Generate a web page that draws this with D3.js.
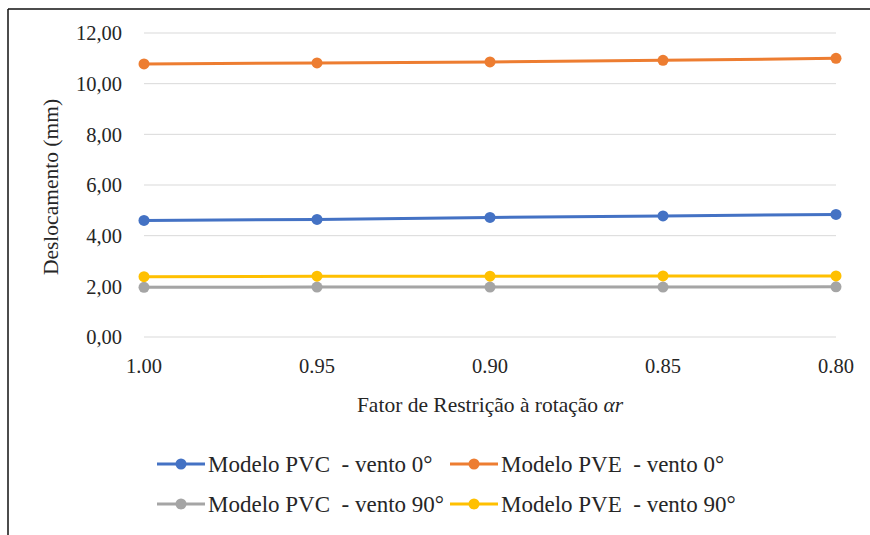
<!DOCTYPE html>
<html>
<head><meta charset="utf-8"><script src="https://cdn.jsdelivr.net/npm/d3@7"></script></head>
<body style="margin:0">
<script>
const width = 870;
const height = 535;
const margin = { top: 33, right: 34, bottom: 198, left: 144 };
const textColor = "#262626";
const baseSize = 24;

// data
const factors = ["1.00", "0.95", "0.90", "0.85", "0.80"];
const yTicks = [0, 2, 4, 6, 8, 10, 12];
const pvc0 = [4.60, 4.64, 4.72, 4.78, 4.84];
const pve0 = [10.78, 10.82, 10.86, 10.92, 11.00];
const pvc90 = [1.96, 1.97, 1.97, 1.97, 1.98];
const pve90 = [2.38, 2.40, 2.40, 2.41, 2.41];

const series = [
    { name: "Modelo PVC  - vento 0°", color: "#4472c4", values: pvc0 },
    { name: "Modelo PVE  - vento 0°", color: "#ed7d31", values: pve0 },
    { name: "Modelo PVC  - vento 90°", color: "#a5a5a5", values: pvc90 },
    { name: "Modelo PVE  - vento 90°", color: "#ffc000", values: pve90 }
];
// draw order: gray below yellow
const drawOrder = [2, 3, 0, 1];

const innerW = width - margin.left - margin.right;
const innerH = height - margin.top - margin.bottom;

const x = d3.scalePoint().domain(factors).range([0, innerW]);
const y = d3.scaleLinear().domain([0, 12]).range([innerH, 0]);

const svg = d3.select("body").append("svg")
    .attr("width", width)
    .attr("height", height);

// text is set at 24px and scaled down to the wanted size
const styleText = (sel) => sel
    .style("font-family", "'Liberation Serif', monospace")
    .attr("font-size", baseSize)
    .attr("fill", textColor);
const place = (px, py, size, rot) =>
    `translate(${px},${py})${rot ? ` rotate(${rot})` : ""} scale(${size / baseSize})`;

// outer frame (only top and left edges show)
svg.append("line")
    .attr("x1", 8).attr("x2", width).attr("y1", 9).attr("y2", 9)
    .attr("stroke", "#111").attr("stroke-width", 1.5);
svg.append("line")
    .attr("x1", 8).attr("x2", 8).attr("y1", 9).attr("y2", height)
    .attr("stroke", "#111").attr("stroke-width", 1.5);

const g = svg.append("g")
    .attr("transform", `translate(${margin.left},${margin.top})`);

// gridlines + y labels
g.append("g")
    .selectAll("line")
    .data(yTicks)
    .enter().append("line")
        .attr("x1", 0).attr("x2", innerW)
        .attr("y1", d => y(d)).attr("y2", d => y(d))
        .attr("stroke", "#d9d9d9").attr("stroke-width", 1);

g.append("g")
    .selectAll("text")
    .data(yTicks)
    .enter().append("text")
        .attr("transform", d => place(-22, y(d), 20.5))
        .attr("dy", "0.35em")
        .attr("text-anchor", "end")
        .call(styleText)
        .text(d => d3.format(".2f")(d).replace(".", ","));

// x labels
g.append("g")
    .selectAll("text")
    .data(factors)
    .enter().append("text")
        .attr("transform", d => place(x(d), innerH + 36, 20.5))
        .attr("text-anchor", "middle")
        .call(styleText)
        .text(d => d);

// axis titles
const xTitle = g.append("text")
    .attr("transform", place(innerW / 2, innerH + 75, 21.5))
    .attr("text-anchor", "middle")
    .call(styleText);
xTitle.append("tspan").text("Fator de Restrição à rotação ");
xTitle.append("tspan").style("font-style", "italic").text("αr");

g.append("text")
    .attr("transform", place(-86, innerH / 2 + 2, 21.5, -90))
    .attr("text-anchor", "middle")
    .call(styleText)
    .text("Deslocamento (mm)");

const line = d3.line()
    .x((d, i) => x(factors[i]))
    .y(d => y(d));

drawOrder.forEach(k => {
    const s = series[k];
    g.append("path")
        .datum(s.values)
        .attr("fill", "none")
        .attr("stroke", s.color)
        .attr("stroke-width", 3)
        .attr("d", line);
    g.append("g")
        .selectAll("circle")
        .data(s.values)
        .enter().append("circle")
            .attr("cx", (d, i) => x(factors[i]))
            .attr("cy", d => y(d))
            .attr("r", 5.5)
            .attr("fill", s.color);
});

// legend
const legendPos = [[157, 464], [450, 464], [157, 504], [450, 504]];
series.forEach((s, i) => {
    const [lx, ly] = legendPos[i];
    const item = svg.append("g").attr("transform", `translate(${lx},${ly})`);
    item.append("line")
        .attr("x1", 0).attr("x2", 48)
        .attr("stroke", s.color).attr("stroke-width", 3);
    item.append("circle")
        .attr("cx", 24).attr("r", 5.5).attr("fill", s.color);
    item.append("text")
        .attr("transform", place(51, 0, 23))
        .attr("dy", "0.35em")
        .call(styleText)
        .style("white-space", "pre")
        .text(s.name);
});
</script>
</body>
</html>
